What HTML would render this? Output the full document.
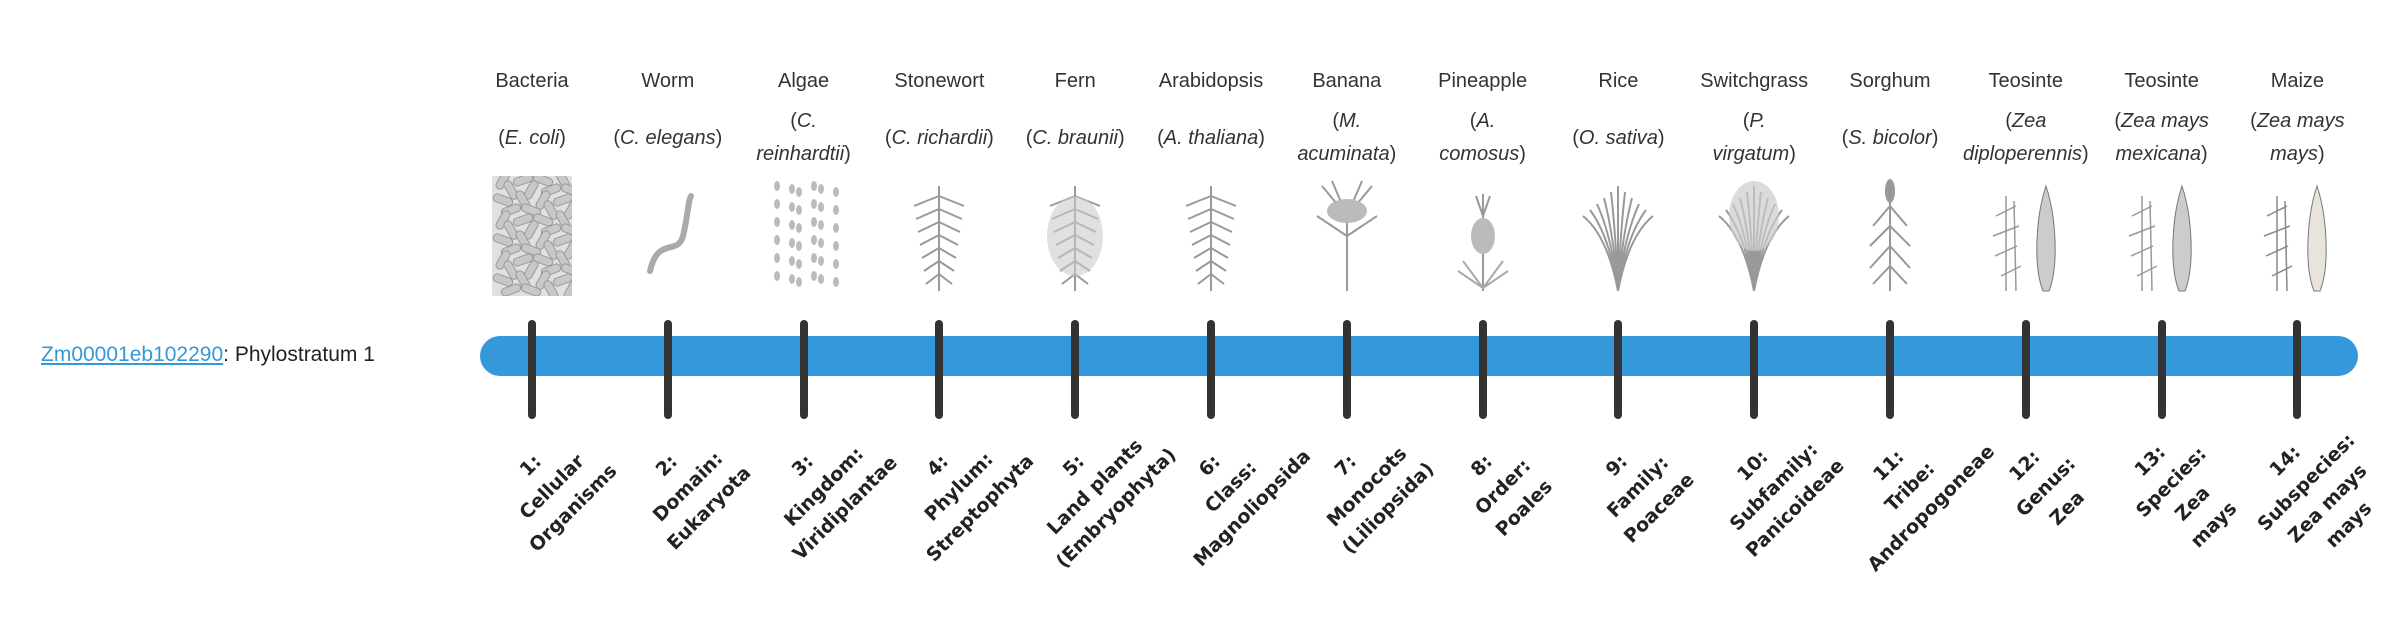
<!DOCTYPE html>
<html><head><meta charset="utf-8">
<style>
html,body{margin:0;padding:0;background:#fff;width:2400px;height:580px;overflow:hidden;font-family:"Liberation Sans",sans-serif;color:#333;}
.abs{position:absolute;}
.name{position:absolute;top:68px;width:136px;margin-left:-68px;text-align:center;font-size:20px;line-height:26px;white-space:nowrap;}
.sci{position:absolute;top:104px;height:68px;width:136px;margin-left:-68px;display:flex;align-items:center;justify-content:center;text-align:center;font-size:20px;line-height:33px;}
.img{position:absolute;top:176px;width:90px;height:120px;margin-left:-45px;}
.tick{position:absolute;top:320px;width:8px;height:99px;margin-left:-4px;background:#333;border-radius:4px;}
.lab{position:absolute;width:220px;height:140px;margin-left:-110px;margin-top:-70px;display:flex;align-items:center;justify-content:center;text-align:center;font-family:"DejaVu Sans",sans-serif;font-weight:bold;font-size:19px;line-height:30px;color:#222;transform:rotate(-45deg);white-space:nowrap;}
</style></head><body>
<div class="abs" style="left:41px;top:341px;font-size:21px;line-height:28px;color:#222;"><span style="color:#3498db;text-decoration:underline;">Zm00001eb102290</span>: Phylostratum 1</div>
<div class="abs" style="left:480px;top:336px;width:1878px;height:40px;background:#3498db;border-radius:20px;"></div>

<div id="cols"></div>
<script>
var d=[
["Bacteria","(<i>E. coli</i>)","1:<br>Cellular<br>Organisms"],
["Worm","(<i>C. elegans</i>)","2:<br>Domain:<br>Eukaryota"],
["Algae","(<i>C.<br>reinhardtii</i>)","3:<br>Kingdom:<br>Viridiplantae"],
["Stonewort","(<i>C. richardii</i>)","4:<br>Phylum:<br>Streptophyta"],
["Fern","(<i>C. braunii</i>)","5:<br>Land plants<br>(Embryophyta)"],
["Arabidopsis","(<i>A. thaliana</i>)","6:<br>Class:<br>Magnoliopsida"],
["Banana","(<i>M.<br>acuminata</i>)","7:<br>Monocots<br>(Liliopsida)"],
["Pineapple","(<i>A.<br>comosus</i>)","8:<br>Order:<br>Poales"],
["Rice","(<i>O. sativa</i>)","9:<br>Family:<br>Poaceae"],
["Switchgrass","(<i>P.<br>virgatum</i>)","10:<br>Subfamily:<br>Panicoideae"],
["Sorghum","(<i>S. bicolor</i>)","11:<br>Tribe:<br>Andropogoneae"],
["Teosinte","(<i>Zea<br>diploperennis</i>)","12:<br>Genus:<br>Zea"],
["Teosinte","(<i>Zea mays<br>mexicana</i>)","13:<br>Species:<br>Zea<br>mays"],
["Maize","(<i>Zea mays<br>mays</i>)","14:<br>Subspecies:<br>Zea mays<br>mays"]
];
function svg(i){
 var s='';
 if(i==0){for(var r=0;r<12;r++)for(var c=0;c<4;c++){var x=6+c*20+(r%2)*8,y=r*10;s+='<rect x="'+x+'" y="'+y+'" width="20" height="8" rx="4" fill="#c8c8c8" stroke="#999" transform="rotate('+((r*3+c*5)%4*40-60)+' '+(x+10)+' '+(y+4)+')"/>';}
  return '<svg width="90" height="120"><clipPath id="c0"><rect x="5" y="0" width="80" height="120"/></clipPath><g clip-path="url(#c0)"><rect x="5" y="0" width="80" height="120" fill="#e0e0e0"/>'+s+'</g></svg>';}
 if(i==1) return '<svg width="90" height="120"><path d="M27 95 C35 60,55 80,60 60 S65 25,68 20" fill="none" stroke="#aaa" stroke-width="6" stroke-linecap="round"/></svg>';
 if(i==2){for(var k=0;k<36;k++){var x=18+(k%6)*11+(k%2)*4,y=10+Math.floor(k/6)*18+(k%3)*3;s+='<ellipse cx="'+x+'" cy="'+y+'" rx="3" ry="5" fill="#bbb"/>';}return '<svg width="90" height="120">'+s+'</svg>';}
 if(i>=11){var st=i==13?'#888':'#999';
  return '<svg width="90" height="120"><g stroke="'+st+'" fill="none" stroke-width="1.5"><path d="M25 115 L25 20 M15 40 L35 30 M12 60 L38 50 M14 80 L36 70 M35 115 L33 25 M20 100 L40 90"/></g><path d="M62 115 C52 90,55 40,65 10 C75 40,78 90,68 115Z" fill="'+(i==13?'#e8e4dc':'#ccc')+'" stroke="#777"/></svg>';}
 var lw='<g stroke="#999" fill="none" stroke-width="2">';
 if(i==7) lw+='<path d="M45 115 L45 40"/></g><ellipse cx="45" cy="60" rx="12" ry="18" fill="#bbb"/><path d="M45 40 L38 20 M45 40 L52 20 M45 40 L45 18" stroke="#999" stroke-width="2"/><path d="M45 112 L20 95 M45 112 L70 95 M45 112 L25 85 M45 112 L65 85" stroke="#aaa" stroke-width="2"/>';
 else if(i==6) lw+='<path d="M45 115 L45 30 M45 40 L20 10 M45 40 L70 10 M45 40 L30 5 M45 40 L60 5 M45 60 L15 40 M45 60 L75 40"/></g><ellipse cx="45" cy="35" rx="20" ry="12" fill="#bbb"/>';
 else if(i==10) lw+='<path d="M45 115 L45 10 M45 30 L28 50 M45 30 L62 50 M45 50 L25 70 M45 50 L65 70 M45 70 L25 92 M45 70 L65 92 M45 90 L28 108 M45 90 L62 108"/></g><ellipse cx="45" cy="15" rx="5" ry="12" fill="#999"/>';
 else if(i==8||i==9){var a='';for(var k=0;k<11;k++){var ex=10+k*7;a+='M45 115 Q'+(45+(ex-45)*0.3)+' 60 '+ex+' '+(10+Math.abs(k-5)*6)+' ';}lw+='<path d="'+a+'"/></g>';if(i==9)lw+='<ellipse cx="45" cy="40" rx="25" ry="35" fill="#ccc" opacity=".7"/>';}
 else {var a='M45 115 L45 10 ';for(var k=0;k<7;k++){var y=20+k*13;a+='M45 '+y+' L'+(20+k*2)+' '+(y+10)+' M45 '+y+' L'+(70-k*2)+' '+(y+10)+' ';}lw+='<path d="'+a+'"/></g>';if(i==4)lw+='<ellipse cx="45" cy="60" rx="28" ry="40" fill="#ccc" opacity=".6"/>';}
 return '<svg width="90" height="120">'+lw+'</svg>';
}
var h='';
for(var i=0;i<14;i++){var x=532+i*135.8;
 h+='<div class="name" style="left:'+x+'px">'+d[i][0]+'</div>';
 h+='<div class="sci" style="left:'+x+'px"><span>'+d[i][1]+'</span></div>';
 h+='<div class="img" style="left:'+x+'px">'+svg(i)+'</div>';
 h+='<div class="tick" style="left:'+x+'px"></div>';
 var n=d[i][2].split('<br>').length;
 h+='<div class="lab" style="left:'+(x+20)+'px;top:'+(n>3?493:487)+'px"><span>'+d[i][2]+'</span></div>';
}
document.getElementById('cols').innerHTML=h;
</script>
</body></html>
